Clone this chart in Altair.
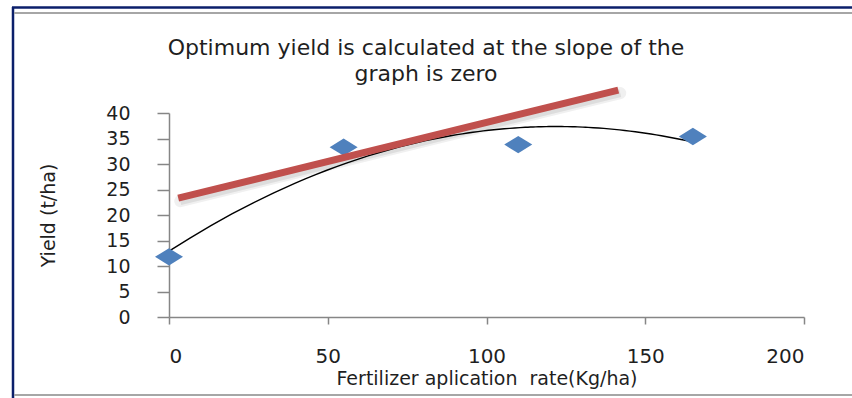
import altair as alt
import pandas as pd

# Observed yield at each fertilizer rate
rate = [0, 55, 110, 165]
yield_t = [11.8, 33.3, 33.8, 35.4]

# Straight reference line drawn across the plot
line_rate = [2.9, 141.5]
line_yield = [23.3, 44.5]

x_ticks = [0, 50, 100, 150, 200]
y_ticks = [0, 5, 10, 15, 20, 25, 30, 35, 40]

title_lines = ["Optimum yield is calculated at the slope of the", "graph is zero"]

FONT = "DejaVu Sans"
AXIS_GREY = "#868686"
TEXT = "#1f1f1f"

W, H = 635, 204

points = pd.DataFrame({"rate": rate, "yield": yield_t})
ref = pd.DataFrame({"rate": line_rate, "yield": line_yield})
one = pd.DataFrame({"k": [0]})

x_scale = alt.Scale(domain=[0, 200], nice=False, zero=False)
y_scale = alt.Scale(domain=[0, 40], nice=False, zero=False)

x_axis = alt.Axis(
    values=x_ticks, grid=False, domainColor=AXIS_GREY, tickColor=AXIS_GREY,
    domainWidth=1.5, tickWidth=1.5, tickSize=7, labelPadding=22,
    labelFont=FONT, labelFontSize=20, labelColor=TEXT,
    title="Fertilizer aplication\u00a0 rate(Kg/ha)", titleFont=FONT, titleFontSize=19,
    titleFontWeight="normal", titleColor=TEXT, titleX=W / 2, titleY=61,
    titleAlign="center", titleBaseline="middle",
)
y_axis = alt.Axis(
    values=y_ticks, grid=False, domainColor=AXIS_GREY, tickColor=AXIS_GREY,
    domainWidth=1.5, tickWidth=1.5, tickSize=12, labelPadding=27,
    labelFont=FONT, labelFontSize=19, labelColor=TEXT,
    title="Yield (t/ha)", titleFont=FONT, titleFontSize=19,
    titleFontWeight="normal", titleColor=TEXT, titleX=-121, titleY=H / 2,
    titleAngle=270, titleAlign="center", titleBaseline="middle",
)

X = alt.X("rate:Q", scale=x_scale, axis=x_axis)
Y = alt.Y("yield:Q", scale=y_scale, axis=y_axis)

diamond = "M-1,0L0,-0.62L1,0L0,0.62Z"

scatter = alt.Chart(points).mark_point(
    shape=diamond, filled=True, size=784, color="#4F81BD", opacity=1, strokeWidth=0
).encode(x=X, y=Y)

trend = alt.Chart(points).transform_regression(
    "rate", "yield", method="poly", order=2
).mark_line(color="black", strokeWidth=1.4).encode(x=X, y=Y)

# soft drop shadow under the red line, built from two faint strokes
ref_shadow_outer = alt.Chart(ref).mark_line(
    color="#000000", opacity=0.06, strokeWidth=12, xOffset=2, yOffset=3, strokeCap="round"
).encode(x=X, y=Y)
ref_shadow_inner = alt.Chart(ref).mark_line(
    color="#000000", opacity=0.08, strokeWidth=8, xOffset=2, yOffset=3, strokeCap="butt"
).encode(x=X, y=Y)

ref_line = alt.Chart(ref).mark_line(
    color="#C0504D", strokeWidth=7, strokeCap="butt"
).encode(x=X, y=Y)

title = alt.Chart(one).mark_text(
    font=FONT, fontSize=22, color=TEXT, align="center", baseline="alphabetic", lineHeight=26
).encode(x=alt.value(426 - 169), y=alt.value(55 - 113), text=alt.value(title_lines))

# Sheet frame around the chart: navy left/top edge, grey cell lines
navy = "#0B1F6B"
grey = "#A6A6A6"
frame_left = alt.Chart(one).mark_rule(color=navy, strokeWidth=2.5).encode(
    x=alt.value(-156), y=alt.value(-106), y2=alt.value(285))
frame_top = alt.Chart(one).mark_rule(color=navy, strokeWidth=2.5).encode(
    x=alt.value(-157), x2=alt.value(683), y=alt.value(-105.5))
frame_top_grey = alt.Chart(one).mark_rule(color=grey, strokeWidth=2).encode(
    x=alt.value(-155), x2=alt.value(683), y=alt.value(-100))
frame_bottom = alt.Chart(one).mark_rule(color=grey, strokeWidth=2).encode(
    x=alt.value(-155), x2=alt.value(683), y=alt.value(282))

chart = alt.layer(
    frame_left, frame_top, frame_top_grey, frame_bottom,
    trend, scatter, ref_shadow_outer, ref_shadow_inner, ref_line, title,
).properties(
    width=W, height=H,
    padding={"left": 169, "top": 113, "right": 48, "bottom": 81},
    autosize=alt.AutoSizeParams(type="none"),
    background="white",
).configure_view(stroke=None)

chart.save("out.html", embed_options={"renderer": "svg", "actions": False})
